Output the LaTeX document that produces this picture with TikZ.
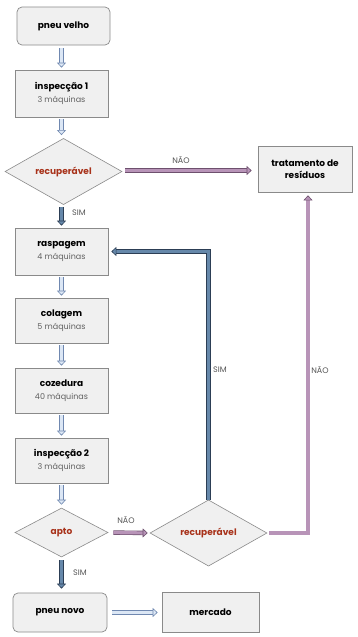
\documentclass[tikz,border=0pt]{standalone}
\usepackage{fontspec}
\setmainfont{Poppins}
\usetikzlibrary{shapes.geometric,arrows.meta,calc}
\definecolor{boxline}{HTML}{8A8A8A}
\definecolor{boxfill}{HTML}{F0F0F0}
\definecolor{lbfill}{HTML}{DCE7F5}
\definecolor{lbline}{HTML}{7088B0}
\definecolor{stfill}{HTML}{6688AA}
\definecolor{stline}{HTML}{2C3E55}
\definecolor{pkfill}{HTML}{B894B8}
\definecolor{pkline}{HTML}{6E506E}
\definecolor{qred}{HTML}{A8321A}
\definecolor{lblgray}{HTML}{555555}
\definecolor{subgray}{HTML}{606060}
\newcommand\subtxt[1]{{\fontsize{8}{9}\selectfont\mdseries\color{subgray}#1}}
\begin{document}
\begin{tikzpicture}[x=1pt,y=-1pt,
  every node/.style={inner sep=0pt, align=center},
  procbox/.style={draw=boxline, fill=boxfill, line width=0.7pt, minimum width=93pt, minimum height=46pt, font=\fontsize{9}{12.5}\selectfont\bfseries},
  endbox/.style={procbox, rounded corners=5pt, minimum height=38pt},
  decision/.style={diamond, draw=boxline, fill=boxfill, line width=0.6pt, font=\fontsize{9}{10}\selectfont\bfseries\color{qred}},
  lbl/.style={font=\fontsize{8}{9}\selectfont\color{lblgray}},
  lightarrow/.style={draw=lbline, line width=0.6pt, double=lbfill, double distance=3.2pt, -{Triangle[length=5pt, width=9pt, fill=lbfill, color=lbline, line width=0.6pt]}},
  steelarrow/.style={draw=stline, line width=0.6pt, double=stfill, double distance=3.2pt, -{Triangle[length=5pt, width=9pt, fill=stfill, color=stline, line width=0.6pt]}},
  pinkarrow/.style={draw=pkline, line width=0.6pt, double=pkfill, double distance=3.2pt, -{Triangle[length=5pt, width=9pt, fill=pkfill, color=pkline, line width=0.6pt]}}
]
\useasboundingbox (0,0) rectangle (357,637);
\fill[white] (0,0) rectangle (357,637);

\node[endbox, minimum width=93pt] (pv) at (63.5,26) {pneu velho};
\node[procbox, minimum height=47pt] (i1) at (61.5,93.5) {inspecção 1\\[1pt]\subtxt{3 máquinas}};
\node[decision, minimum width=117pt, minimum height=61pt] (d1) at (63.5,171.5) {recuperável};
\node[procbox, minimum width=94pt] (tr) at (305,169) {tratamento de\\resíduos};
\node[procbox, minimum height=47pt] (ra) at (61.5,251.5) {raspagem\\[1pt]\subtxt{4 máquinas}};
\node[procbox, minimum height=45pt] (co) at (61.5,320.5) {colagem\\[1pt]\subtxt{5 máquinas}};
\node[procbox, minimum height=45pt] (cz) at (61.5,390.5) {cozedura\\[1pt]\subtxt{40 máquinas}};
\node[procbox, minimum height=45pt] (i2) at (61.5,460.5) {inspecção 2\\[1pt]\subtxt{3 máquinas}};
\node[decision, minimum width=93pt, minimum height=49pt] (ap) at (61.5,532.5) {apto};
\node[decision, minimum width=117pt, minimum height=60pt] (d2) at (208.5,533) {recuperável};
\node[endbox, minimum width=94pt, minimum height=39pt] (pn) at (60,612.5) {pneu novo};
\node[procbox, minimum width=97pt, minimum height=40pt] (me) at (210.5,612) {mercado};

\draw[lightarrow, shorten <=3pt, shorten >=2pt] (pv.south -| i1.north) -- (i1.north);
\draw[lightarrow, shorten <=2pt, shorten >=3pt] (i1.south) -- (i1.south |- d1.north);
\draw[steelarrow, shorten <=2pt, shorten >=2pt] (ra.north |- d1.south) -- (ra.north);
\draw[pinkarrow, shorten <=3pt, shorten >=6pt] ([yshift=1pt]d1.east) -- ([yshift=1pt]d1.east -| tr.west);
\draw[lightarrow, shorten <=2pt, shorten >=2pt] (ra.south) -- (co.north);
\draw[lightarrow, shorten <=2pt, shorten >=2pt] (co.south) -- (cz.north);
\draw[lightarrow, shorten <=2pt, shorten >=2pt] (cz.south) -- (i2.north);
\draw[lightarrow, shorten <=2pt, shorten >=3pt] (i2.south) -- (ap.north);
\draw[pinkarrow, shorten <=5pt, shorten >=2pt] (ap.east) -- (d2.west);
\draw[steelarrow, shorten >=3pt] (d2.north) |- (ra.east);
\draw[pinkarrow, shorten <=2pt, shorten >=3pt] (d2.east) -| ([xshift=3pt]tr.south);
\draw[steelarrow, shorten <=3pt, shorten >=4pt] (ap.south) -- (ap.south |- pn.north);
\draw[lightarrow, shorten <=5pt, shorten >=4pt] (pn.east) -- (pn.east -| me.west);

\node[lbl] (l1) at (181,160) {NÃO};
\node[lbl] (l2) at (79,213) {SIM};
\node[lbl] (l3) at (126,520) {NÃO};
\node[lbl] (l4) at (80,573) {SIM};
\node[lbl] (l5) at (220,370) {SIM};
\node[lbl] (l6) at (320,370) {NÃO};
\end{tikzpicture}
\end{document}
